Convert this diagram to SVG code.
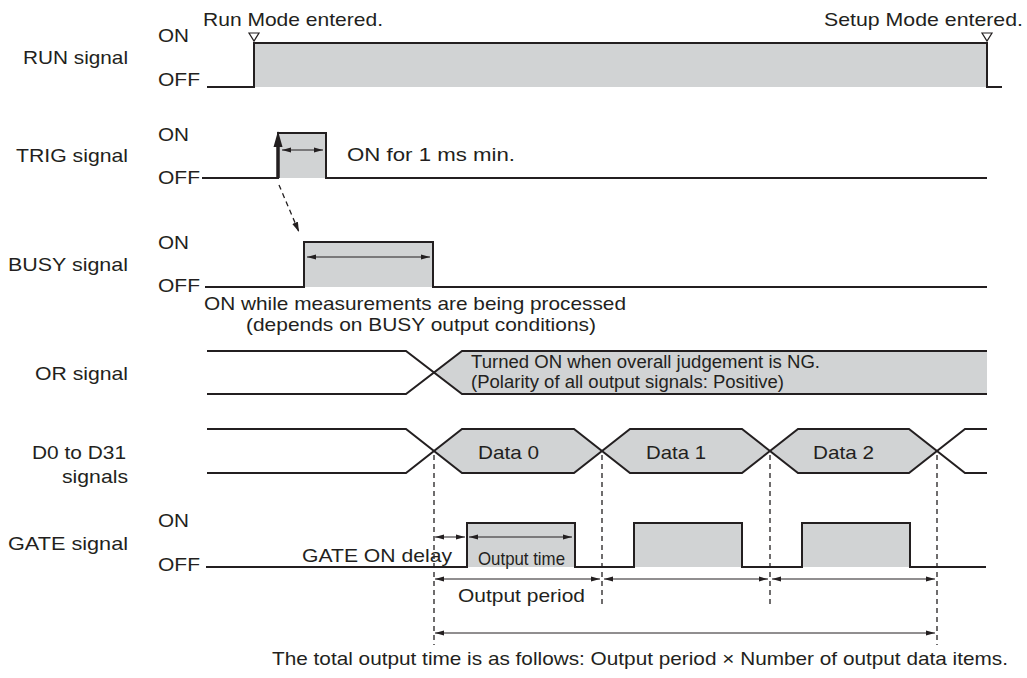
<svg xmlns="http://www.w3.org/2000/svg" width="1027" height="678" viewBox="0 0 1027 678">
<defs>
<style>
text{font-family:"Liberation Sans",Arial,Helvetica,sans-serif;font-size:19px;fill:#231f20}
.sm{font-size:17.5px}
.wave{fill:none;stroke:#231f20;stroke-width:2;stroke-linejoin:miter}
.fill{fill:#d1d3d4;stroke:none}
.dim{fill:none;stroke:#231f20;stroke-width:1;marker-start:url(#ah);marker-end:url(#ah)}
.guide{fill:none;stroke:#231f20;stroke-width:1.3;stroke-dasharray:5 4}
.tri{fill:#fff;stroke:#231f20;stroke-width:1.2}
</style>
<marker id="ah" viewBox="0 0 9 6" refX="9" refY="3" markerWidth="9" markerHeight="6" markerUnits="userSpaceOnUse" orient="auto-start-reverse"><path d="M0,0.6 L9,3 L0,5.4 z" fill="#231f20"/></marker>
<marker id="ahd" viewBox="0 0 10 7" refX="10" refY="3.5" markerWidth="10" markerHeight="7" markerUnits="userSpaceOnUse" orient="auto"><path d="M0,0.5 L10,3.5 L0,6.5 z" fill="#231f20"/></marker>
</defs>
<rect width="1027" height="678" fill="#fff"/>

<g id="labels">
<text x="23" y="64" textLength="105" lengthAdjust="spacingAndGlyphs">RUN signal</text>
<text x="16" y="162" textLength="112" lengthAdjust="spacingAndGlyphs">TRIG signal</text>
<text x="8" y="271" textLength="120" lengthAdjust="spacingAndGlyphs">BUSY signal</text>
<text x="35" y="380" textLength="93" lengthAdjust="spacingAndGlyphs">OR signal</text>
<text x="32" y="459" textLength="94" lengthAdjust="spacingAndGlyphs">D0 to D31</text>
<text x="62" y="483" textLength="66" lengthAdjust="spacingAndGlyphs">signals</text>
<text x="8" y="550" textLength="120" lengthAdjust="spacingAndGlyphs">GATE signal</text>
</g>

<g id="sig-run">
<rect class="fill" x="254" y="43" width="733" height="44"/>
<polyline class="wave" points="207,87 254,87 254,43 987,43 987,87 1002,87"/>
<polygon class="tri" points="249,33 259,33 254,41"/>
<polygon class="tri" points="982,33 992,33 987,41"/>
<text x="158" y="42" textLength="31" lengthAdjust="spacingAndGlyphs">ON</text>
<text x="158" y="86" textLength="42" lengthAdjust="spacingAndGlyphs">OFF</text>
<text x="203" y="26" textLength="180" lengthAdjust="spacingAndGlyphs">Run Mode entered.</text>
<text x="824" y="26" textLength="199" lengthAdjust="spacingAndGlyphs">Setup Mode entered.</text>
</g>

<g id="sig-trig">
<rect class="fill" x="278" y="133" width="48" height="45"/>
<polyline class="wave" points="202,178 278,178 278,133 326,133 326,178 987,178"/>
<line x1="278" y1="178" x2="278" y2="145" stroke="#231f20" stroke-width="3.5"/>
<polygon points="278,131 273.5,147 282.5,147" fill="#231f20"/>
<text x="158" y="141" textLength="31" lengthAdjust="spacingAndGlyphs">ON</text>
<text x="158" y="184" textLength="42" lengthAdjust="spacingAndGlyphs">OFF</text>
<text x="347" y="161" textLength="168" lengthAdjust="spacingAndGlyphs">ON for 1 ms min.</text>
</g>

<g id="sig-busy">
<rect class="fill" x="304" y="242" width="129" height="45"/>
<polyline class="wave" points="205,287 304,287 304,242 433,242 433,287 987,287"/>
<text x="158" y="249" textLength="31" lengthAdjust="spacingAndGlyphs">ON</text>
<text x="158" y="292" textLength="42" lengthAdjust="spacingAndGlyphs">OFF</text>
<text x="204" y="310" textLength="422" lengthAdjust="spacingAndGlyphs">ON while measurements are being processed</text>
<text x="246" y="331" textLength="350" lengthAdjust="spacingAndGlyphs">(depends on BUSY output conditions)</text>
</g>

<g id="sig-or">
<polygon class="fill" points="434,372.5 462,351 987,351 987,394 462,394"/>
<polyline class="wave" points="207,351 406,351 462,394 987,394"/>
<polyline class="wave" points="207,394 406,394 462,351 987,351"/>
<text class="sm" x="471" y="368" textLength="349" lengthAdjust="spacingAndGlyphs">Turned ON when overall judgement is NG.</text>
<text class="sm" x="471" y="388" textLength="313" lengthAdjust="spacingAndGlyphs">(Polarity of all output signals: Positive)</text>
</g>

<g id="sig-data">
<polygon class="fill" points="434,451 462,429 574,429 602,451 574,473 462,473"/>
<polygon class="fill" points="602,451 630,429 742,429 770,451 742,473 630,473"/>
<polygon class="fill" points="770,451 798,429 909,429 937,451 909,473 798,473"/>
<polyline class="wave" points="207,429 406,429 462,473 574,473 630,429 742,429 798,473 909,473 965,429 987,429"/>
<polyline class="wave" points="207,473 406,473 462,429 574,429 630,473 742,473 798,429 909,429 965,473 987,473"/>
<text x="478" y="459" textLength="61" lengthAdjust="spacingAndGlyphs">Data 0</text>
<text x="646" y="459" textLength="60" lengthAdjust="spacingAndGlyphs">Data 1</text>
<text x="813" y="459" textLength="61" lengthAdjust="spacingAndGlyphs">Data 2</text>
</g>

<g id="sig-gate">
<rect class="fill" x="467" y="523" width="108" height="44"/>
<rect class="fill" x="634" y="523" width="108" height="44"/>
<rect class="fill" x="802" y="523" width="108" height="44"/>
<polyline class="wave" points="206,567 467,567 467,523 575,523 575,567 634,567 634,523 742,523 742,567 802,567 802,523 910,523 910,567 986,567"/>
<text x="158" y="527" textLength="31" lengthAdjust="spacingAndGlyphs">ON</text>
<text x="158" y="571" textLength="42" lengthAdjust="spacingAndGlyphs">OFF</text>
<text x="302" y="562" textLength="150" lengthAdjust="spacingAndGlyphs">GATE ON delay</text>
<text x="478" y="565" textLength="87" lengthAdjust="spacingAndGlyphs">Output time</text>
<text x="458" y="602" textLength="127" lengthAdjust="spacingAndGlyphs">Output period</text>
<text x="272" y="665" textLength="736" lengthAdjust="spacingAndGlyphs">The total output time is as follows: Output period × Number of output data items.</text>
</g>

<g id="connectors">
<line class="dim" x1="282" y1="150" x2="323" y2="150"/>
<line class="dim" x1="307" y1="257" x2="430" y2="257"/>
<line class="guide" x1="279" y1="185" x2="299" y2="232" marker-end="url(#ahd)" stroke-dasharray="5 4"/>
<line class="guide" x1="434" y1="455" x2="434" y2="645"/>
<line class="guide" x1="602" y1="455" x2="602" y2="606"/>
<line class="guide" x1="770" y1="455" x2="770" y2="606"/>
<line class="guide" x1="937" y1="455" x2="937" y2="645"/>
<line class="dim" x1="435" y1="537" x2="465" y2="537"/>
<line class="dim" x1="469" y1="537" x2="572" y2="537"/>
<line class="dim" x1="435" y1="579" x2="600" y2="579"/>
<line class="dim" x1="604" y1="579" x2="768" y2="579"/>
<line class="dim" x1="772" y1="579" x2="935" y2="579"/>
<line class="dim" x1="435" y1="633" x2="935" y2="633"/>
</g>
</svg>
